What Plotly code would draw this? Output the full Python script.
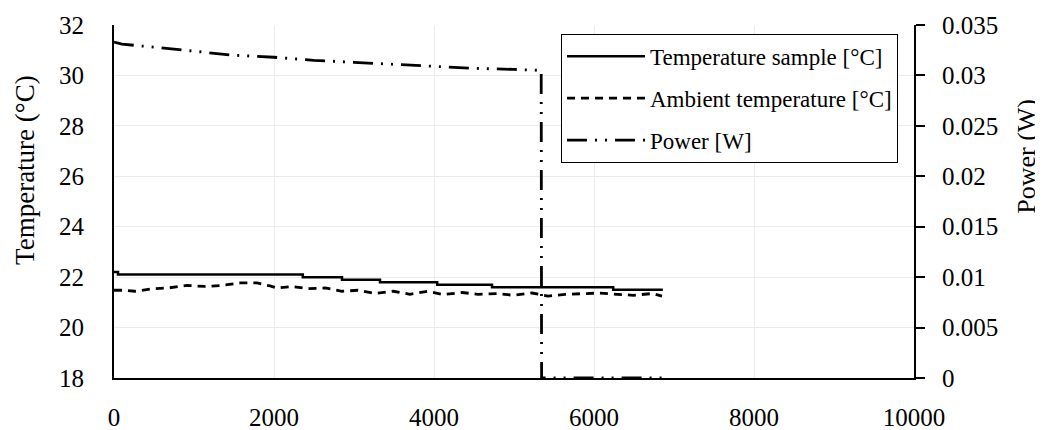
import plotly.graph_objects as go

# --- data ---
t_sample = [0, 50, 2360, 2850, 3325, 4040, 4725, 6240, 6860]
temp_sample = [22.2, 22.1, 22.0, 21.9, 21.8, 21.7, 21.6, 21.5, 21.5]

t_ambient = [0, 100, 260, 490, 675, 910, 1140, 1350, 1575, 1785, 1950, 2035, 2225,
             2425, 2640, 2850, 3050, 3260, 3490, 3700, 3925, 4110, 4350, 4550,
             4785, 4990, 5225, 5425, 5640, 5865, 6075, 6290, 6490, 6725, 6850]
temp_ambient = [21.48, 21.48, 21.44, 21.54, 21.57, 21.67, 21.63, 21.67, 21.77, 21.77,
                21.65, 21.57, 21.63, 21.54, 21.57, 21.44, 21.48, 21.35, 21.44, 21.32,
                21.44, 21.31, 21.39, 21.32, 21.35, 21.28, 21.37, 21.25, 21.32, 21.35,
                21.37, 21.32, 21.28, 21.35, 21.25]

t_power = [0, 100, 500, 1000, 1500, 2000, 2500, 3000, 3500, 4000, 4500, 5000, 5340, 5345, 6860]
power = [0.0333, 0.0331, 0.0328, 0.0324, 0.0320, 0.0318, 0.0315, 0.0313, 0.0311,
         0.0309, 0.0307, 0.0306, 0.0305, 0.0, 0.0]

x_range = [0, 10000]
y_range = [18, 32]
y2_range = [0, 0.035]

FONT = "Liberation Serif"

fig = go.Figure()
fig.add_trace(go.Scatter(x=t_sample, y=temp_sample, mode="lines", line_shape="hv",
                         name="Temperature sample [°C]", legendgroup="a",
                         line=dict(color="black", width=2.5)))
fig.add_trace(go.Scatter(x=t_ambient, y=temp_ambient, mode="lines",
                         name="Ambient temperature [°C]", legendgroup="b",
                         line=dict(color="black", width=2.8, dash="8px,6px")))
fig.add_trace(go.Scatter(x=t_power, y=power, mode="lines", yaxis="y2",
                         name="Power [W]", legendgroup="c",
                         line=dict(color="black", width=2.8,
                                   dash="20px,8px,2px,8px,2px,8px")))

fig.update_layout(
    width=1035, height=422,
    margin=dict(l=106, r=129, t=17, b=52, autoexpand=False),
    paper_bgcolor="white", plot_bgcolor="white",
    font=dict(family=FONT, size=25, color="black"),
    showlegend=True,
    legend=dict(x=0.98, y=0.975, xanchor="right", yanchor="top",
                bgcolor="white", bordercolor="black", borderwidth=1,
                font=dict(family=FONT, size=23), tracegroupgap=9,
                itemwidth=78, traceorder="grouped"),
    xaxis=dict(range=x_range, dtick=2000, tickformat="d", showgrid=True,
               gridcolor="#ebebeb", gridwidth=1, zeroline=False, automargin=False,
               showline=True, linecolor="black", linewidth=2, ticks="",
               ticklabelstandoff=16, tickfont=dict(size=25)),
    yaxis=dict(range=y_range, dtick=2, showgrid=True, gridcolor="#ebebeb",
               gridwidth=1, zeroline=False, showline=True, linecolor="black",
               automargin=False,
               linewidth=2, ticks="", ticklabelstandoff=23, tickfont=dict(size=25)),
    yaxis2=dict(range=y2_range, dtick=0.005, overlaying="y", side="right",
                showgrid=False, zeroline=False, showline=True, linecolor="black",
                automargin=False,
                linewidth=2, ticks="outside", ticklen=9, tickwidth=1.5,
                tickcolor="black", ticklabelstandoff=12, tickfont=dict(size=25)),
    annotations=[
        dict(text="Temperature (°C)", x=-0.111, y=0.59, xref="paper", yref="paper",
             textangle=-90, showarrow=False, font=dict(family=FONT, size=27),
             xanchor="center", yanchor="middle"),
        dict(text="Power (W)", x=1.141, y=0.629, xref="paper", yref="paper",
             textangle=-90, showarrow=False, font=dict(family=FONT, size=26),
             xanchor="center", yanchor="middle"),
    ],
)

fig.write_html("out.html")
